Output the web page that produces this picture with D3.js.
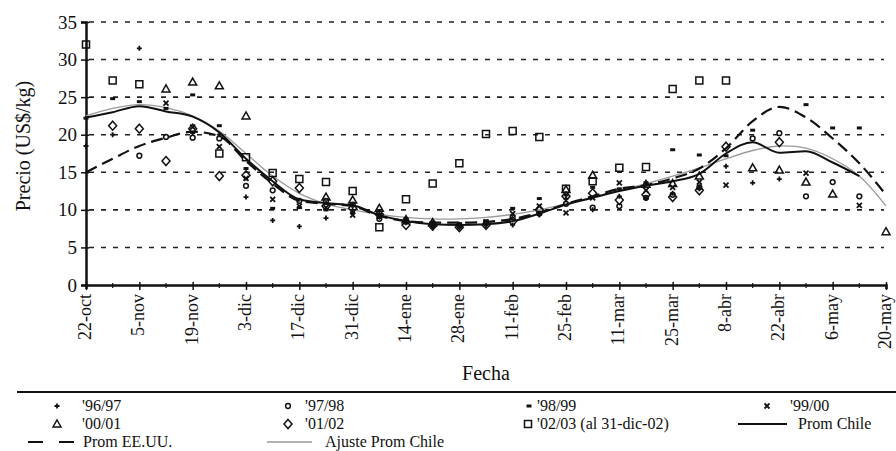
<!DOCTYPE html>
<html>
<head>
<meta charset="utf-8">
<script src="https://cdn.jsdelivr.net/npm/d3@7"></script>
<style>
  body { margin: 0; background: #fff; }
  svg { display: block; font-family: "Liberation Serif", "Times New Roman", serif; }
</style>
</head>
<body>
<svg id="chart" width="896" height="451"></svg>
<script>
// Fechas (cada 14 días desde 22-oct)
const tickLabels = ["22-oct", "5-nov", "19-nov", "3-dic", "17-dic", "31-dic", "14-ene", "28-ene",
  "11-feb", "25-feb", "11-mar", "25-mar", "8-abr", "22-abr", "6-may", "20-may"];
const yTicks = [0, 5, 10, 15, 20, 25, 30, 35];

// Precios semanales (US$/kg), semana 0 = 22-oct
const s9697 = [18.5, 20, 31.5, null, 20.2, 20, 11.7, 8.6, 7.8, 8.9, 10, 9.5, 8.3, 7.6, 7.6, 7.9,
  8, 9.3, 11.5, 10, 11.8, 11.5, 12.2, 12.8, 15.8, 13.6, 14.1, null, null, null, null];
const s9798 = [null, null, 17.2, 19.7, 19.6, 19.5, 13.2, 12.6, 11.2, 11.2, 10.7, 8.8, 8.6, 8.1, 7.9, 8.3,
  9, 9.5, 10.8, 10.3, 10.5, 11.6, 12, 13, null, 19.5, 20.2, 11.8, 13.7, 11.8, null];
const s9899 = [22.2, 24.8, 24.4, 23.5, 25.3, 21.2, 15.5, 10.2, 10.3, 10, 9.6, 9, 8.8, 8.3, 8.1, 8.5,
  10.2, 11.5, 12, 13, 12.8, 13.6, 18, 17.3, 17.2, 20.6, null, 24, 20.9, 20.9, null];
const s9900 = [null, null, null, 24.2, 21, 18.4, 14.2, 11.4, 10.5, 10.3, 9.3, 9.2, 8.4, 8.2, 8, 8.4,
  9.5, 10.5, 9.6, 11.6, 13.6, 12.6, 13, 13.7, 13.3, null, null, 14.9, null, 10.6, null];
const s0001 = [null, null, null, 26.1, 27, 26.5, 22.5, null, null, 11.7, 11.3, 10.2, 8.7, 8.3, null, null,
  null, null, 12.7, 14.6, null, 13.4, 13.5, 14.5, null, 15.6, 15.3, 13.7, 12.1, null, 7.1];
const s0102 = [null, 21.2, 20.8, 16.5, 20.8, 14.5, 14.6, 13.8, 12.9, 10.5, 10.2, 9.4, 8, 7.9, 7.7, 8,
  8.5, 10, 11.8, 12.2, 11.3, 12, 11.7, 12.6, 18.4, null, 19, null, null, null, null];
const s0203 = [32, 27.2, 26.7, null, null, 17.5, 17, 14.9, 14.1, 13.7, 12.5, 7.7, 11.4, 13.5, 16.2, 20.1,
  20.5, 19.7, 12.8, 13.8, 15.6, 15.7, 26.1, 27.2, 27.2, null, null, null, null, null, null];

const promChile = [22.3, 23, 23.8, 23.1, 22.4, 20.3, 16.8, 13.8, 11.4, 10.9, 10.6, 9.3, 8.5, 8.1, 8, 8.1,
  8.5, 9.5, 10.7, 11.6, 12.5, 13.2, 13.8, 14.8, 17.5, 19, 17.6, 17.8, 16.3, 14.5, null];
const ajusteChile = [22.5, 23.5, 24, 23.6, 22.5, 20.5, 17.5, 14.5, 12.2, 10.8, 10, 9.4, 9, 8.8, 8.8, 9,
  9.4, 10, 10.8, 11.7, 12.6, 13.5, 14.5, 15.6, 16.8, 17.9, 18.5, 18.2, 16.8, 14.5, 10.5];
const promEEUU = [15, 16.8, 18.5, 19.6, 20.4, 19.8, 16.5, 13.5, 11.2, 10.8, 10.5, 9.2, 8.5, 8.3, 8.3, 8.4,
  8.8, 9.6, 10.8, 11.8, 12.8, 13.3, 14.2, 15.5, 18.2, 21.8, 23.7, 22.3, 19.5, 16.2, 12];

const svg = d3.select("#chart");
const x = d3.scaleLinear().domain([0, 210]).range([86, 886]);
const y = d3.scaleLinear().domain([0, 35]).range([285, 22]);

// grid
svg.append("g").selectAll("line")
  .data(yTicks.filter(d => d > 0))
  .join("line")
  .attr("x1", x(0) + 3).attr("x2", x(210) - 2)
  .attr("y1", d => y(d)).attr("y2", d => y(d))
  .attr("stroke", "#222").attr("stroke-width", 1.6)
  .attr("stroke-dasharray", "5,7");

// y axis
const yAxis = svg.append("g").attr("transform", `translate(${x(0)},0)`)
  .call(d3.axisLeft(y).tickValues(yTicks).tickSize(5).tickPadding(4));
yAxis.select(".domain").attr("stroke", "#111").attr("stroke-width", 2.5);
yAxis.selectAll(".tick line").attr("stroke", "#111").attr("stroke-width", 1.5).attr("x2", 3).attr("x1", -5);
yAxis.selectAll("text").attr("font-size", 19).attr("fill", "#111")
  .attr("font-family", "Liberation Serif, serif");

// x axis
const xAxis = svg.append("g").attr("transform", `translate(0,${y(0)})`)
  .call(d3.axisBottom(x).tickValues(d3.range(0, 211, 14)).tickSize(4)
    .tickFormat((d, i) => tickLabels[i]));
xAxis.select(".domain").attr("stroke", "#111").attr("stroke-width", 2.5);
xAxis.selectAll(".tick line").attr("stroke", "#111").attr("stroke-width", 1.5).attr("y1", -3).attr("y2", 5);
xAxis.selectAll("text")
  .attr("font-size", 18).attr("fill", "#111").attr("font-family", "Liberation Serif, serif")
  .attr("text-anchor", "end").attr("dy", "0.3em")
  .attr("transform", "translate(-1,9) rotate(-90)")
  .attr("x", 0).attr("y", 0);
// minor ticks
svg.append("g").selectAll("line")
  .data(d3.range(7, 210, 14))
  .join("line")
  .attr("x1", d => x(d)).attr("x2", d => x(d))
  .attr("y1", y(0) - 2).attr("y2", y(0) + 3)
  .attr("stroke", "#111").attr("stroke-width", 1.2);

// lines
const weeks = d3.range(31);
const lineGen = d3.line()
  .defined(d => d[1] != null)
  .x(d => x(d[0] * 7)).y(d => y(d[1]));
const pairs = arr => weeks.map(w => [w, arr[w]]);

svg.append("path").datum(pairs(ajusteChile))
  .attr("d", lineGen.curve(d3.curveCatmullRom)).attr("fill", "none")
  .attr("stroke", "#9a9a9a").attr("stroke-width", 1.3);
svg.append("path").datum(pairs(promChile))
  .attr("d", lineGen.curve(d3.curveMonotoneX)).attr("fill", "none")
  .attr("stroke", "#111").attr("stroke-width", 2);
svg.append("path").datum(pairs(promEEUU))
  .attr("d", lineGen.curve(d3.curveMonotoneX)).attr("fill", "none")
  .attr("stroke", "#111").attr("stroke-width", 2.2).attr("stroke-dasharray", "12,6");

// markers
function markerPath(type) {
  switch (type) {
    case "plus": return "M-2.5,0H2.5M0,-2.5V2.5";
    case "circle": return d3.symbol(d3.symbolCircle, 18)();
    case "dash": return "M-2.5,-1.5H2.5V1.5H-2.5Z";
    case "x": return "M-2.5,-2.5L2.5,2.5M-2.5,2.5L2.5,-2.5";
    case "triangle": return "M0,-4L4,3H-4Z";
    case "diamond": return "M0,-4.5L4,0L0,4.5L-4,0Z";
    case "square": return "M-3.5,-3.5H3.5V3.5H-3.5Z";
  }
}
const seriesList = [
  { name: "'96/97", data: s9697, type: "plus" },
  { name: "'97/98", data: s9798, type: "circle" },
  { name: "'98/99", data: s9899, type: "dash" },
  { name: "'99/00", data: s9900, type: "x" },
  { name: "'00/01", data: s0001, type: "triangle" },
  { name: "'01/02", data: s0102, type: "diamond" },
  { name: "'02/03 (al 31-dic-02)", data: s0203, type: "square" }
];
function styleMarker(sel, type) {
  if (type === "dash") sel.attr("fill", "#111").attr("stroke", "none");
  else if (type === "plus" || type === "x") sel.attr("fill", "none").attr("stroke", "#111").attr("stroke-width", 1.8);
  else sel.attr("fill", "none").attr("stroke", "#111").attr("stroke-width", 1.5);
}
seriesList.forEach(s => {
  const g = svg.append("g");
  const sel = g.selectAll("path")
    .data(pairs(s.data).filter(d => d[1] != null))
    .join("path")
    .attr("transform", d => `translate(${x(d[0] * 7)},${y(d[1])})`)
    .attr("d", markerPath(s.type));
  styleMarker(sel, s.type);
});

// axis titles
svg.append("text")
  .attr("transform", `translate(30,146) rotate(-90)`)
  .attr("text-anchor", "middle").attr("font-size", 20).attr("fill", "#111")
  .text("Precio (US$/kg)");
svg.append("text")
  .attr("x", 486).attr("y", 380).attr("text-anchor", "middle")
  .attr("font-size", 20).attr("fill", "#111").text("Fecha");

// separator
svg.append("line").attr("x1", 17).attr("x2", 896).attr("y1", 392).attr("y2", 392)
  .attr("stroke", "#111").attr("stroke-width", 1.8);

// legend
const legendItems = [
  { s: seriesList[0], mx: 57, tx: 82, row: 0 },
  { s: seriesList[1], mx: 288, tx: 305, row: 0 },
  { s: seriesList[2], mx: 529, tx: 537, row: 0 },
  { s: seriesList[3], mx: 767, tx: 790, row: 0 },
  { s: seriesList[4], mx: 57, tx: 82, row: 1 },
  { s: seriesList[5], mx: 288, tx: 305, row: 1 },
  { s: seriesList[6], mx: 528, tx: 537, row: 1 }
];
const rowY = [406, 424, 442];
const legend = svg.append("g").attr("font-size", 16).attr("fill", "#111");
legendItems.forEach(it => {
  const m = legend.append("path")
    .attr("transform", `translate(${it.mx},${rowY[it.row]})`)
    .attr("d", markerPath(it.s.type));
  styleMarker(m, it.s.type);
  legend.append("text").attr("x", it.tx).attr("y", rowY[it.row] + 5).text(it.s.name);
});
const lineItems = [
  { name: "Prom EE.UU.", x1: 28, x2: 77, tx: 83, row: 2, stroke: "#111", w: 2.2, dash: "15,16" },
  { name: "Ajuste Prom Chile", x1: 267, x2: 312, tx: 325, row: 2, stroke: "#9a9a9a", w: 1.3, dash: null },
  { name: "Prom Chile", x1: 738, x2: 787, tx: 798, row: 1, stroke: "#111", w: 2, dash: null }
];
lineItems.forEach(it => {
  legend.append("line").attr("x1", it.x1).attr("x2", it.x2)
    .attr("y1", rowY[it.row]).attr("y2", rowY[it.row])
    .attr("stroke", it.stroke).attr("stroke-width", it.w)
    .attr("stroke-dasharray", it.dash);
  legend.append("text").attr("x", it.tx).attr("y", rowY[it.row] + 5).text(it.name);
});
</script>
</body>
</html>
